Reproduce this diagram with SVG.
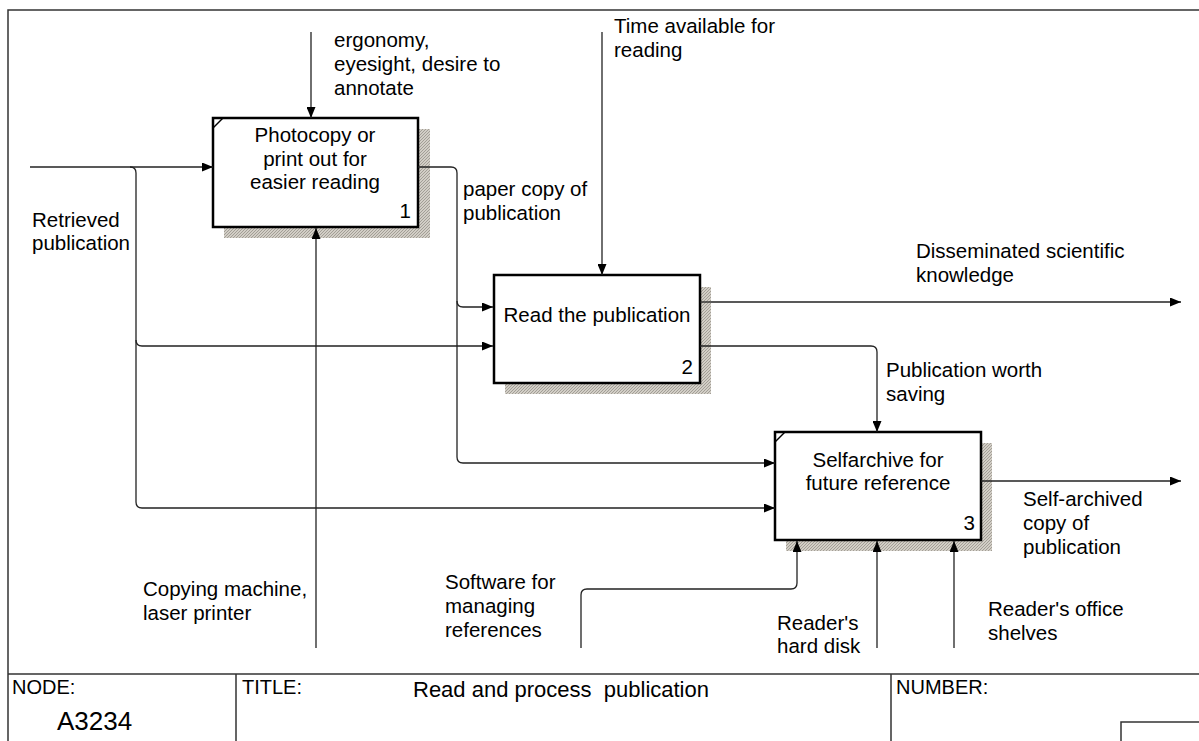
<svg xmlns="http://www.w3.org/2000/svg" width="1199" height="741" viewBox="0 0 1199 741">
<style>
text{font-family:"Liberation Sans",Arial,sans-serif;fill:#000}
.lbl{font-size:20.5px}
.bx{font-size:20.5px}
.num{font-size:20.5px}
.frame{fill:none;stroke:#333;stroke-width:1.5}
.box{fill:#fff;stroke:#000;stroke-width:2.5}
.sh{fill:url(#hatch)}
.tick{stroke:#000;stroke-width:1.5}
.con{fill:none;stroke:#222;stroke-width:1.3}
.arr{marker-end:url(#ah)}
.tb{font-size:20px}
</style>
<defs>
<pattern id="hatch" width="3" height="3" patternUnits="userSpaceOnUse">
<rect width="3" height="3" fill="#d2cec6"/>
<path d="M0,3 L3,0" stroke="#a29e96" stroke-width="1"/>
</pattern>
<marker id="ah" markerWidth="11" markerHeight="9" refX="11" refY="4.5" orient="auto" markerUnits="userSpaceOnUse">
<path d="M0,0 L11,4.5 L0,9 z" fill="#000"/>
</marker>
</defs>
<rect width="1199" height="741" fill="#fff"/>
<g id="frame">
<path class="frame" d="M8,741 V10 H1199"/>
<path class="frame" d="M8,674 H1199 M236,674 V741 M891,674 V741 M1121,741 V722 H1199"/>
<text class="tb" x="12" y="694">NODE:</text>
<text x="57" y="730" font-size="26">A3234</text>
<text class="tb" x="242" y="694">TITLE:</text>
<text x="413" y="697" font-size="22" xml:space="preserve">Read and process  publication</text>
<text class="tb" x="896" y="694">NUMBER:</text>
</g>
<g id="box1">
<rect class="sh" x="224" y="129" width="206" height="109"/>
<rect class="box" x="213" y="118" width="205" height="109"/>
<line class="tick" x1="213" y1="128" x2="223" y2="118"/>
<text class="bx" x="315" y="142" text-anchor="middle">Photocopy or</text>
<text class="bx" x="315" y="166" text-anchor="middle">print out for</text>
<text class="bx" x="315" y="189" text-anchor="middle">easier reading</text>
<text class="num" x="411" y="218" text-anchor="end">1</text>
</g>
<g id="box2">
<rect class="sh" x="505" y="287" width="206" height="107"/>
<rect class="box" x="494" y="275" width="206" height="108"/>
<text class="bx" x="597" y="322" text-anchor="middle">Read the publication</text>
<text class="num" x="693" y="374" text-anchor="end">2</text>
</g>
<g id="box3">
<rect class="sh" x="786" y="443" width="206" height="108"/>
<rect class="box" x="775" y="432" width="206" height="108"/>
<line class="tick" x1="775" y1="442" x2="785" y2="432"/>
<text class="bx" x="878" y="467" text-anchor="middle">Selfarchive for</text>
<text class="bx" x="878" y="490" text-anchor="middle">future reference</text>
<text class="num" x="975" y="530" text-anchor="end">3</text>
</g>
<g id="connectors">
<path class="con arr" d="M311,32 V118"/>
<path class="con arr" d="M30,167 H213"/>
<path class="con arr" d="M130,167 Q136,167 136,173 V502 Q136,508 142,508 H775"/>
<path class="con arr" d="M136,340 Q136,346 142,346 H493"/>
<path class="con arr" d="M418,167 H451 Q457,167 457,173 V301 Q457,307 463,307 H493"/>
<path class="con arr" d="M457,301 V457 Q457,463 463,463 H775"/>
<path class="con arr" d="M602,32 V275"/>
<path class="con arr" d="M711,302 H1181"/>
<path class="con" d="M700,302 H711"/>
<path class="con arr" d="M700,346 H871 Q877,346 877,352 V432"/>
<path class="con arr" d="M981,481 H1181"/>
<path class="con arr" d="M316,648 V228"/>
<path class="con arr" d="M581,648 V595 Q581,589 587,589 H791 Q797,589 797,583 V541"/>
<path class="con arr" d="M877,648 V541"/>
<path class="con arr" d="M954,648 V541"/>
<text class="lbl" x="334" y="47">ergonomy,</text>
<text class="lbl" x="334" y="71">eyesight, desire to</text>
<text class="lbl" x="334" y="95">annotate</text>
<text class="lbl" x="614" y="33">Time available for</text>
<text class="lbl" x="614" y="57">reading</text>
<text class="lbl" x="32" y="227">Retrieved</text>
<text class="lbl" x="32" y="250">publication</text>
<text class="lbl" x="463" y="196">paper copy of</text>
<text class="lbl" x="463" y="220">publication</text>
<text class="lbl" x="916" y="258">Disseminated scientific</text>
<text class="lbl" x="916" y="282">knowledge</text>
<text class="lbl" x="886" y="377">Publication worth</text>
<text class="lbl" x="886" y="401">saving</text>
<text class="lbl" x="1023" y="506">Self-archived</text>
<text class="lbl" x="1023" y="530">copy of</text>
<text class="lbl" x="1023" y="554">publication</text>
<text class="lbl" x="143" y="596">Copying machine,</text>
<text class="lbl" x="143" y="620">laser printer</text>
<text class="lbl" x="445" y="589">Software for</text>
<text class="lbl" x="445" y="613">managing</text>
<text class="lbl" x="445" y="637">references</text>
<text class="lbl" x="777" y="630">Reader's</text>
<text class="lbl" x="777" y="653">hard disk</text>
<text class="lbl" x="988" y="616">Reader's office</text>
<text class="lbl" x="988" y="640">shelves</text>
</g>
</svg>
